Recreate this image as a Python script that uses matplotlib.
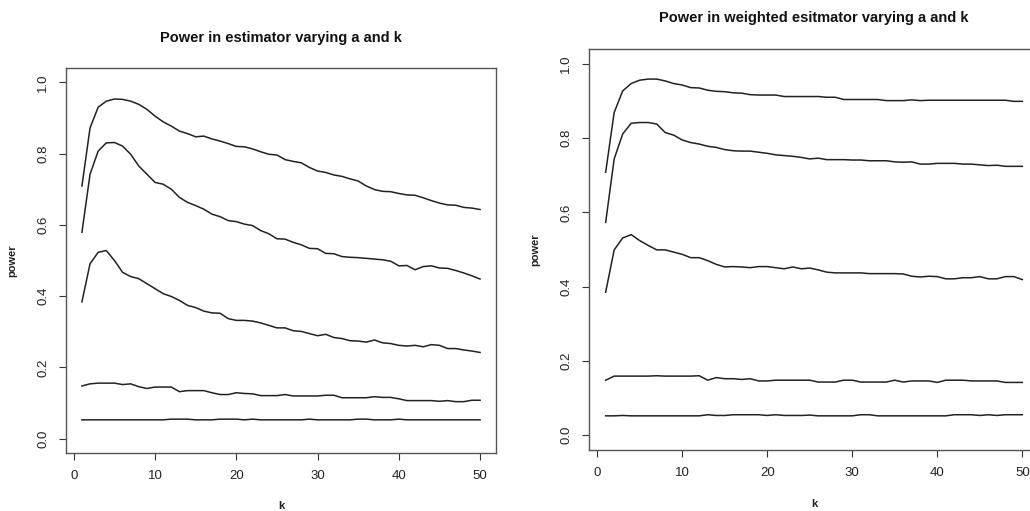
import numpy as np
import matplotlib
matplotlib.use("Agg")
import matplotlib.pyplot as plt

plt.rcParams['font.family'] = ['Liberation Sans', 'DejaVu Sans']

# k values (1..50)
k = np.arange(1, 51)

# power of the plain estimator, one list per value of a
plain_a1 = [0.709, 0.872, 0.930, 0.947, 0.953, 0.952, 0.947, 0.938, 0.924, 0.905,
            0.889, 0.877, 0.863, 0.856, 0.847, 0.849, 0.841, 0.835, 0.828, 0.820,
            0.819, 0.813, 0.805, 0.798, 0.796, 0.783, 0.778, 0.774, 0.761, 0.751,
            0.747, 0.740, 0.736, 0.729, 0.723, 0.709, 0.699, 0.694, 0.693, 0.688,
            0.684, 0.683, 0.676, 0.668, 0.661, 0.656, 0.655, 0.649, 0.647, 0.643]
plain_a2 = [0.579, 0.742, 0.807, 0.830, 0.831, 0.821, 0.798, 0.765, 0.742, 0.719,
            0.714, 0.700, 0.677, 0.663, 0.654, 0.644, 0.630, 0.623, 0.612, 0.609,
            0.602, 0.598, 0.584, 0.575, 0.561, 0.560, 0.551, 0.544, 0.534, 0.533,
            0.520, 0.519, 0.511, 0.509, 0.508, 0.506, 0.504, 0.502, 0.498, 0.485,
            0.486, 0.474, 0.483, 0.485, 0.479, 0.478, 0.472, 0.465, 0.457, 0.448]
plain_a3 = [0.384, 0.491, 0.523, 0.528, 0.500, 0.467, 0.455, 0.449, 0.435, 0.421,
            0.407, 0.399, 0.388, 0.374, 0.368, 0.358, 0.353, 0.352, 0.337, 0.332,
            0.332, 0.330, 0.325, 0.318, 0.311, 0.311, 0.303, 0.301, 0.295, 0.289,
            0.293, 0.284, 0.281, 0.275, 0.274, 0.271, 0.277, 0.269, 0.267, 0.262,
            0.260, 0.262, 0.258, 0.264, 0.262, 0.253, 0.253, 0.249, 0.246, 0.242]
plain_a4 = [0.148, 0.154, 0.156, 0.156, 0.156, 0.152, 0.154, 0.146, 0.141, 0.145,
            0.145, 0.145, 0.132, 0.135, 0.135, 0.135, 0.129, 0.124, 0.124, 0.129,
            0.127, 0.126, 0.121, 0.121, 0.121, 0.124, 0.120, 0.120, 0.120, 0.120,
            0.122, 0.122, 0.115, 0.115, 0.115, 0.115, 0.118, 0.116, 0.116, 0.112,
            0.107, 0.107, 0.107, 0.107, 0.105, 0.107, 0.104, 0.104, 0.108, 0.108]
plain_a5 = [0.053, 0.053, 0.053, 0.053, 0.053, 0.053, 0.053, 0.053, 0.053, 0.053,
            0.053, 0.055, 0.055, 0.055, 0.053, 0.053, 0.053, 0.055, 0.055, 0.055,
            0.053, 0.055, 0.053, 0.053, 0.053, 0.053, 0.053, 0.053, 0.055, 0.053,
            0.053, 0.053, 0.053, 0.053, 0.055, 0.055, 0.053, 0.053, 0.053, 0.055,
            0.053, 0.053, 0.053, 0.053, 0.053, 0.053, 0.053, 0.053, 0.053, 0.053]

# power of the weighted estimator
weighted_a1 = [0.708, 0.869, 0.927, 0.947, 0.956, 0.959, 0.959, 0.954, 0.947, 0.943,
               0.936, 0.935, 0.929, 0.926, 0.925, 0.922, 0.921, 0.917, 0.916, 0.916,
               0.916, 0.912, 0.912, 0.912, 0.912, 0.912, 0.910, 0.910, 0.904, 0.904,
               0.904, 0.904, 0.904, 0.901, 0.901, 0.901, 0.903, 0.901, 0.902, 0.902,
               0.902, 0.902, 0.902, 0.902, 0.902, 0.902, 0.902, 0.902, 0.899, 0.899]
weighted_a2 = [0.573, 0.744, 0.811, 0.840, 0.842, 0.842, 0.838, 0.815, 0.808, 0.795,
               0.788, 0.784, 0.778, 0.775, 0.769, 0.766, 0.765, 0.765, 0.762, 0.759,
               0.755, 0.753, 0.751, 0.748, 0.744, 0.746, 0.742, 0.742, 0.742, 0.741,
               0.741, 0.739, 0.739, 0.739, 0.736, 0.735, 0.736, 0.730, 0.730, 0.732,
               0.732, 0.732, 0.730, 0.730, 0.728, 0.726, 0.727, 0.724, 0.724, 0.724]
weighted_a3 = [0.385, 0.499, 0.531, 0.540, 0.524, 0.511, 0.499, 0.499, 0.493, 0.487,
               0.478, 0.478, 0.470, 0.460, 0.453, 0.454, 0.453, 0.451, 0.454, 0.454,
               0.451, 0.448, 0.453, 0.448, 0.450, 0.445, 0.439, 0.437, 0.437, 0.437,
               0.437, 0.435, 0.435, 0.435, 0.435, 0.434, 0.428, 0.426, 0.428, 0.427,
               0.421, 0.421, 0.424, 0.424, 0.427, 0.421, 0.421, 0.427, 0.427, 0.419]
weighted_a4 = [0.148, 0.159, 0.159, 0.159, 0.159, 0.159, 0.160, 0.159, 0.159, 0.159,
               0.159, 0.160, 0.148, 0.155, 0.152, 0.152, 0.150, 0.152, 0.146, 0.146,
               0.148, 0.148, 0.148, 0.148, 0.148, 0.143, 0.143, 0.143, 0.148, 0.148,
               0.143, 0.143, 0.143, 0.143, 0.148, 0.143, 0.146, 0.146, 0.146, 0.142,
               0.148, 0.148, 0.148, 0.146, 0.146, 0.146, 0.146, 0.142, 0.142, 0.142]
weighted_a5 = [0.052, 0.052, 0.053, 0.052, 0.052, 0.052, 0.052, 0.052, 0.052, 0.052,
               0.052, 0.052, 0.055, 0.053, 0.053, 0.055, 0.055, 0.055, 0.055, 0.053,
               0.055, 0.053, 0.053, 0.053, 0.054, 0.052, 0.052, 0.052, 0.052, 0.052,
               0.055, 0.055, 0.052, 0.052, 0.052, 0.052, 0.052, 0.052, 0.052, 0.052,
               0.052, 0.055, 0.055, 0.055, 0.053, 0.055, 0.053, 0.055, 0.055, 0.055]

plain = [plain_a1, plain_a2, plain_a3, plain_a4, plain_a5]
weighted = [weighted_a1, weighted_a2, weighted_a3, weighted_a4, weighted_a5]

W, H = 1030, 511
fig = plt.figure(figsize=(W / 100, H / 100), dpi=100)


def px_axes(left, top, right, bottom):
    # axes box given in pixels, measured from the top left corner
    return fig.add_axes([left / W, 1 - bottom / H, (right - left) / W, (bottom - top) / H])


def r_style(ax, series, title, title_y, ylab_x, xlab_y):
    for s in series:
        ax.plot(k, s, color='#222222', lw=1.1)
    ax.set_xlim(-0.96, 51.96)
    ax.set_ylim(-0.04, 1.04)
    ax.set_xticks([0, 10, 20, 30, 40, 50])
    ax.set_yticks([0.0, 0.2, 0.4, 0.6, 0.8, 1.0])
    ax.set_yticklabels(['0.0', '0.2', '0.4', '0.6', '0.8', '1.0'], rotation=90, va='center')
    ax.tick_params(direction='out', length=5, width=0.8, colors='#333333',
                   labelcolor='#222222', labelsize=9.5, pad=7)
    for sp in ax.spines.values():
        sp.set_color('#555555')
        sp.set_linewidth(1.0)
    # title and axis labels placed like R's base graphics
    bb = ax.get_position()
    fig.text((bb.x0 + bb.x1) / 2, 1 - title_y / H, title, ha='center', va='center',
             fontsize=10.5, fontweight='bold', color='#111111')
    fig.text((bb.x0 + bb.x1) / 2, 1 - xlab_y / H, 'k', ha='center', va='center',
             fontsize=8, fontweight='bold', color='#222222')
    fig.text(ylab_x / W, (bb.y0 + bb.y1) / 2, 'power', ha='center', va='center',
             rotation=90, fontsize=8, fontweight='bold', color='#222222')


ax1 = px_axes(66, 68, 496, 453)
r_style(ax1, plain, 'Power in estimator varying a and k', 38, 12, 506)

ax2 = px_axes(589, 49, 1039, 450)
r_style(ax2, weighted, 'Power in weighted esitmator varying a and k', 18, 535, 504)

fig.savefig('out.png', dpi=100)
